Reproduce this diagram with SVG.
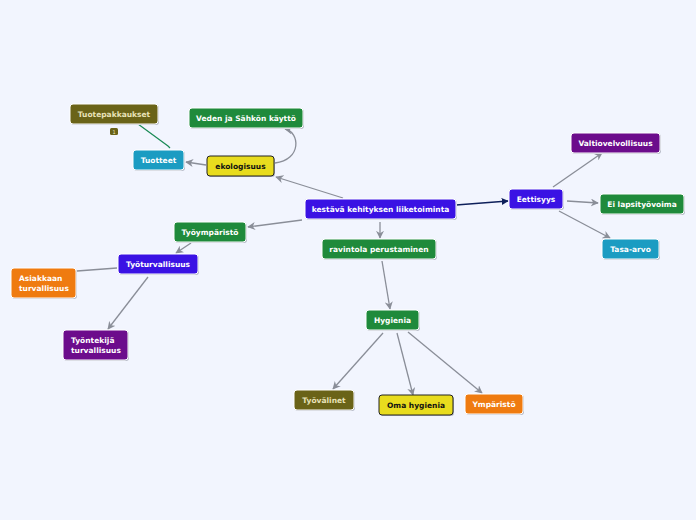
<svg xmlns="http://www.w3.org/2000/svg" width="696" height="520" viewBox="0 0 696 520">
<defs>
<style>
.n rect.b{stroke:#ffffff;stroke-width:1}
.n rect.s{fill:#b8bcc8}
.n text{font-family:"DejaVu Sans","Verdana",sans-serif;font-weight:bold;font-size:7.5px;fill:#ffffff;text-anchor:middle}
.n text.d{fill:#111111}
.n text.o{fill:#e8e2b8}
.blue{fill:#3a12e4}
.green{fill:#1f8a3b}
.olive{fill:#6a6318}
.yellow{fill:#e8dc1e}
.orange{fill:#ef7b10}
.purple{fill:#6c0c8c}
.teal{fill:#1b9cc2}
.c path{fill:none;stroke:#8a8e98;stroke-width:1.3}
</style>
<marker id="a" viewBox="0 0 10 10" refX="9" refY="5" markerWidth="8" markerHeight="8" markerUnits="userSpaceOnUse" orient="auto">
<path d="M0,0 L10,5 L0,10 L3,5 Z" fill="#8a8e98"/>
</marker>
<marker id="an" viewBox="0 0 10 10" refX="9" refY="5" markerWidth="7" markerHeight="7" markerUnits="userSpaceOnUse" orient="auto">
<path d="M0,0 L10,5 L0,10 Z" fill="#0d1f5a"/>
</marker>
</defs>
<rect width="696" height="520" fill="#f2f5fe"/>
<g class="c">
<path d="M343,198 L276,177" marker-end="url(#a)"/>
<path d="M302,220 L248,227" marker-end="url(#a)"/>
<path d="M380,222 L380,238" marker-end="url(#a)"/>
<path d="M456,205 L508,201" marker-end="url(#an)" style="stroke:#0d1f5a;stroke-width:1.6"/>
<path d="M382,261 L390,309" marker-end="url(#a)"/>
<path d="M383,333 L333,389" marker-end="url(#a)"/>
<path d="M397,333 L413,395" marker-end="url(#a)"/>
<path d="M408,332 L482,393" marker-end="url(#a)"/>
<path d="M553,187 L602,153" marker-end="url(#a)"/>
<path d="M567,201 L598,203" marker-end="url(#a)"/>
<path d="M559,211 L610,238" marker-end="url(#a)"/>
<path d="M275,163 C302,160 300,132 285,129" marker-end="url(#a)"/>
<path d="M206,165 L186,162" marker-end="url(#a)"/>
<path d="M138,124 L168,146 L170,148" style="stroke:#1a8a55;stroke-width:1.2"/>
<path d="M191,243 L176,253" marker-end="url(#a)"/>
<path d="M117,268 L77,271"/>
<path d="M148,277 L108,329" marker-end="url(#a)"/>
</g>
<g id="n-main" class="n"><rect class="s" x="306" y="200" width="151" height="20" rx="3"/><rect class="b blue" x="305" y="199" width="151" height="20" rx="3"/><text x="380.5" y="212">kestävä kehityksen liiketoiminta</text></g>
<g id="n-ravintola" class="n"><rect class="s" x="323" y="240" width="114" height="20" rx="3"/><rect class="b green" x="322" y="239" width="114" height="20" rx="3"/><text x="379" y="252">ravintola perustaminen</text></g>
<g id="n-hygienia" class="n"><rect class="s" x="367" y="311" width="53" height="20" rx="3"/><rect class="b green" x="366" y="310" width="53" height="20" rx="3"/><text x="392.5" y="323">Hygienia</text></g>
<g id="n-tyovalineet" class="n"><rect class="s" x="295" y="391" width="60" height="20" rx="3"/><rect class="b olive" x="294" y="390" width="60" height="20" rx="3"/><text class="o" x="324" y="403">Työvälinet</text></g>
<g id="n-oma" class="n"><rect class="s" x="380" y="396" width="74" height="20" rx="3"/><rect class="yellow" x="379" y="395" width="74" height="20" rx="3" stroke="#222" stroke-width="1"/><text class="d" x="416" y="408">Oma hygienia</text></g>
<g id="n-ymparisto" class="n"><rect class="s" x="466" y="395" width="58" height="20" rx="3"/><rect class="b orange" x="465" y="394" width="58" height="20" rx="3"/><text x="494" y="407">Ympäristö</text></g>
<g id="n-eettisyys" class="n"><rect class="s" x="510" y="190" width="54" height="20" rx="3"/><rect class="b blue" x="509" y="189" width="54" height="20" rx="3"/><text x="536" y="202">Eettisyys</text></g>
<g id="n-valtio" class="n"><rect class="s" x="572" y="134" width="89" height="20" rx="3"/><rect class="b purple" x="571" y="133" width="89" height="20" rx="3"/><text x="615.5" y="146">Valtiovelvollisuus</text></g>
<g id="n-lapsi" class="n"><rect class="s" x="601" y="195" width="84" height="20" rx="3"/><rect class="b green" x="600" y="194" width="84" height="20" rx="3"/><text x="642" y="207">Ei lapsityövoima</text></g>
<g id="n-tasa" class="n"><rect class="s" x="603" y="240" width="57" height="20" rx="3"/><rect class="b teal" x="602" y="239" width="57" height="20" rx="3"/><text x="630.5" y="252">Tasa-arvo</text></g>
<g id="n-ekologisuus" class="n"><rect class="s" x="208" y="157" width="67" height="20" rx="3"/><rect class="yellow" x="207" y="156" width="67" height="20" rx="3" stroke="#222" stroke-width="1"/><text class="d" x="240.5" y="169">ekologisuus</text></g>
<g id="n-veden" class="n"><rect class="s" x="190" y="109" width="114" height="20" rx="3"/><rect class="b green" x="189" y="108" width="114" height="20" rx="3"/><text x="246" y="121">Veden ja Sähkön käyttö</text></g>
<g id="n-tuotteet" class="n"><rect class="s" x="134" y="151" width="51" height="20" rx="3"/><rect class="b teal" x="133" y="150" width="51" height="20" rx="3"/><text x="158.5" y="163">Tuotteet</text></g>
<g id="n-tuotepakkaukset" class="n"><rect class="s" x="71" y="105" width="88" height="20" rx="3"/><rect class="b olive" x="70" y="104" width="88" height="20" rx="3"/><text class="o" x="114" y="117">Tuotepakkaukset</text><rect x="110" y="128" width="8" height="7" rx="1.5" fill="#6a6318"/><text class="o" x="114" y="134" style="font-size:5px;font-weight:normal">1</text></g>
<g id="n-tyoymparisto" class="n"><rect class="s" x="175" y="223" width="72" height="20" rx="3"/><rect class="b green" x="174" y="222" width="72" height="20" rx="3"/><text x="210" y="235">Työympäristö</text></g>
<g id="n-tyoturvallisuus" class="n"><rect class="s" x="119" y="255" width="80" height="20" rx="3"/><rect class="b blue" x="118" y="254" width="80" height="20" rx="3"/><text x="158" y="267">Työturvallisuus</text></g>
<g id="n-asiakkaan" class="n"><rect class="s" x="12" y="269" width="65" height="30" rx="3"/><rect class="b orange" x="11" y="268" width="65" height="30" rx="3"/><text x="19" y="281" style="text-anchor:start">Asiakkaan</text><text x="19" y="291" style="text-anchor:start">turvallisuus</text></g>
<g id="n-tyontekija" class="n"><rect class="s" x="64" y="331" width="65" height="30" rx="3"/><rect class="b purple" x="63" y="330" width="65" height="30" rx="3"/><text x="71" y="343" style="text-anchor:start">Työntekijä</text><text x="71" y="353" style="text-anchor:start">turvallisuus</text></g>
</svg>
